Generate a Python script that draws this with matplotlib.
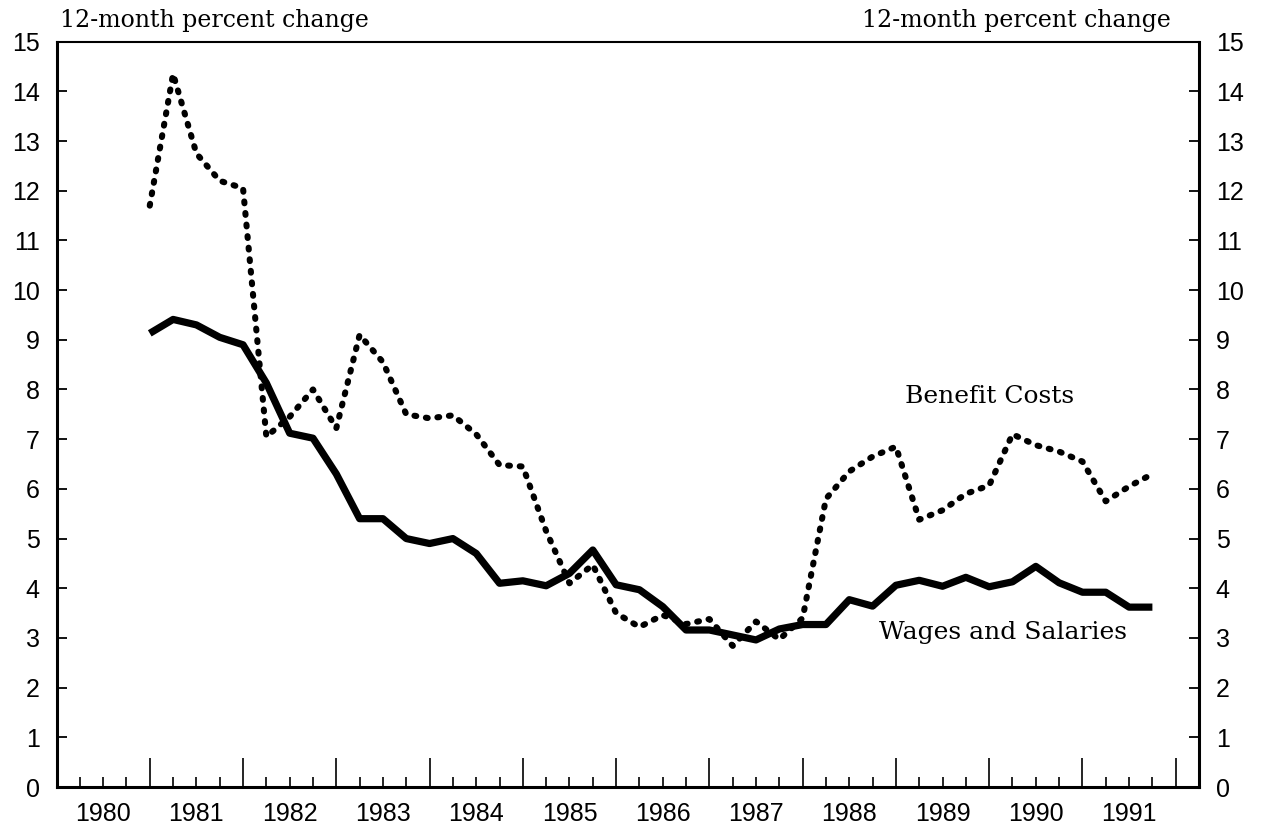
import numpy as np
import matplotlib.pyplot as plt

plt.rcParams["font.family"] = ["Liberation Sans", "DejaVu Sans"]

# quarterly 12-month changes, first plotted quarter sits on the 1981 tick
first_quarter = 1981.0
wages_salaries = [9.13, 9.41, 9.30, 9.05, 8.90, 8.13, 7.12, 7.02, 6.30, 5.40, 5.40, 5.00,
                  4.90, 5.00, 4.70, 4.10, 4.15, 4.05, 4.30, 4.77, 4.07, 3.97, 3.63, 3.16,
                  3.16, 3.06, 2.96, 3.18, 3.27, 3.27, 3.77, 3.64, 4.06, 4.16, 4.04, 4.22,
                  4.03, 4.13, 4.44, 4.11, 3.92, 3.92, 3.62, 3.62]
benefit_costs = [11.70, 14.35, 12.75, 12.20, 12.05, 7.05, 7.45, 8.00, 7.22, 9.10, 8.55, 7.50,
                 7.42, 7.48, 7.10, 6.48, 6.45, 5.15, 4.10, 4.47, 3.50, 3.22, 3.46, 3.28,
                 3.38, 2.84, 3.33, 2.97, 3.40, 5.80, 6.35, 6.65, 6.85, 5.38, 5.57, 5.90,
                 6.07, 7.10, 6.88, 6.75, 6.55, 5.75, 6.05, 6.30]
year_labels = list(range(1980, 1992))
y_ticks = list(range(0, 16))

quarters = first_quarter + 0.25 * np.arange(len(wages_salaries))

fig, ax = plt.subplots(figsize=(12.64, 8.33), dpi=100)
fig.subplots_adjust(left=0.0447, right=0.9486, bottom=0.0552, top=0.95)

ax.plot(quarters, wages_salaries, color="black", linewidth=5.2, solid_joinstyle="round", solid_capstyle="butt")
ax.plot(quarters, benefit_costs, color="black", linewidth=4.4, linestyle=(0, (0.3, 1.6)), dash_capstyle="round")

ax.set_xlim(year_labels[0], year_labels[-1] + 1.25)
ax.set_ylim(0, 15)

# long ticks at year boundaries, short ticks at the quarters
ax.set_xticks(range(year_labels[0] + 1, year_labels[-1] + 2))
minor = [q for q in np.arange(year_labels[0] + 0.25, year_labels[-1] + 1.25, 0.25) if q % 1 != 0]
ax.set_xticks(minor, minor=True)
ax.tick_params(axis="x", which="major", direction="in", length=21, width=1.2, labelbottom=False)
ax.tick_params(axis="x", which="minor", direction="in", length=7, width=1.2)
for yr in year_labels:
    ax.text(yr + 0.5, -0.02, str(yr), transform=ax.get_xaxis_transform(), ha="center", va="top", fontsize=18)

ax.set_yticks(y_ticks)
ax.tick_params(axis="y", direction="in", length=7, width=1.3, left=True, right=True,
               labelleft=True, labelright=True, labelsize=18, pad=12)

for side in ["left", "right", "bottom"]:
    ax.spines[side].set_linewidth(2.2)
ax.spines["top"].set_linewidth(1.5)

ax.text(0.003, 1.019, "12-month percent change", transform=ax.transAxes, ha="left", va="baseline",
        fontsize=17, family="DejaVu Serif")
ax.text(0.975, 1.019, "12-month percent change", transform=ax.transAxes, ha="right", va="baseline",
        fontsize=17, family="DejaVu Serif")

ax.text(1990.0, 7.85, "Benefit Costs", ha="center", va="center", fontsize=18, family="DejaVu Serif")
ax.text(1990.15, 3.1, "Wages and Salaries", ha="center", va="center", fontsize=18, family="DejaVu Serif")

plt.savefig("out.png", dpi=100)
